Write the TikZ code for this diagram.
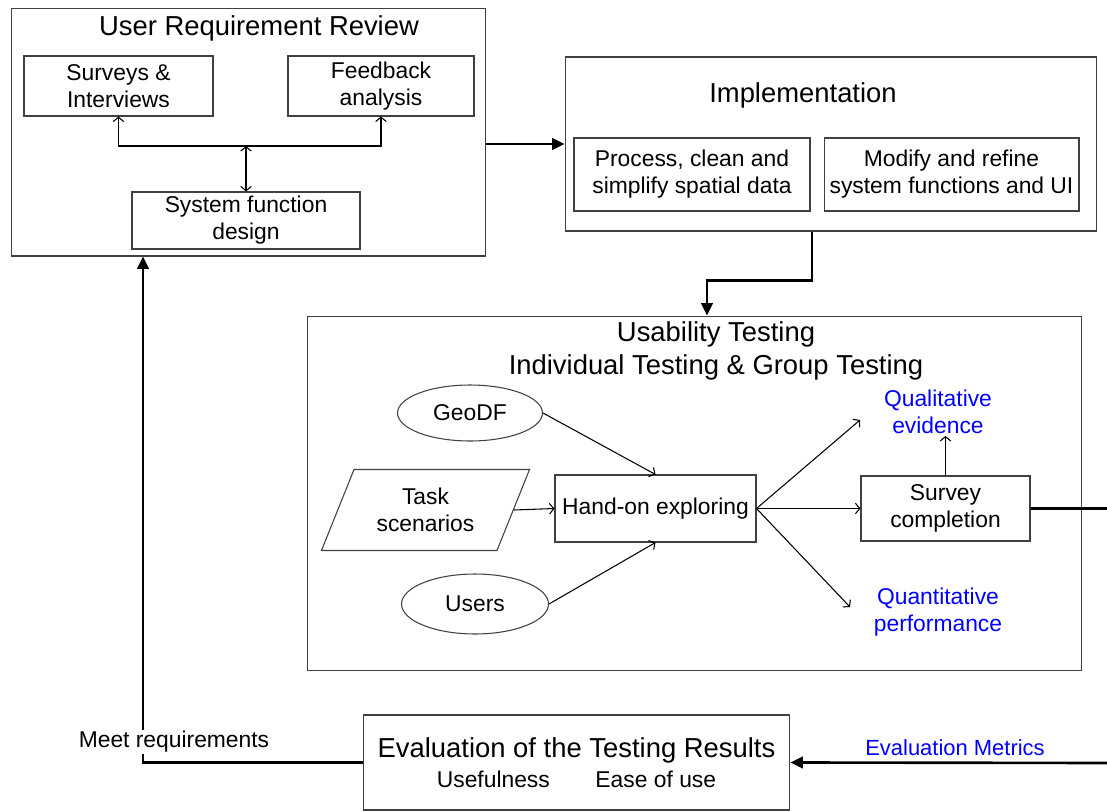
\documentclass[tikz,border=0pt]{standalone}
\usepackage{fontspec}
\setmainfont{Liberation Sans}
\usetikzlibrary{shapes.geometric,arrows.meta}
\tikzstyle{panel}=[rectangle,draw=black!75,line width=0.6pt,inner sep=0pt]
\tikzstyle{box}=[rectangle,draw=black!75,line width=0.6pt,align=center,inner sep=0pt,font=\fontsize{13}{15.3}\selectfont]
\tikzstyle{oval}=[ellipse,draw=black!75,line width=0.6pt,inner sep=0pt,font=\fontsize{13}{15.3}\selectfont]
\tikzstyle{heading}=[align=center,inner sep=1pt,font=\fontsize{15.6}{18.7}\selectfont]
\tikzstyle{result}=[align=center,inner sep=1pt,text=blue,font=\fontsize{13}{15.3}\selectfont]
\tikzstyle{link}=[line width=0.6pt,-{Straight Barb[length=2.5pt,width=6pt]}]
\tikzstyle{flow}=[line width=1.5pt,-{Triangle[length=7pt,width=6.5pt]}]

\begin{document}
\begin{tikzpicture}[x=0.02cm,y=-0.02cm]
		\useasboundingbox (0,0) rectangle (1107,812);
		\clip (0,0) rectangle (1107,812);
		\node[panel,minimum width=9.5cm,minimum height=4.96cm] at (248.5,132) (urrbox) {};
		\node[heading] at (259,28) (urrtitle) {User Requirement Review};
		\node[box,minimum width=3.78cm,minimum height=1.2cm] at (118.5,86) (surveys) {Surveys \&\\Interviews};
		\node[box,minimum width=3.72cm,minimum height=1.2cm] at (381,86) (feedback) {Feedback\\analysis};
		\node[box,minimum width=4.56cm,minimum height=1.14cm] at (246,220.5) (sysdesign) {System function\\design};
		\coordinate (hub) at (246,146);
		\node[panel,minimum width=10.64cm,minimum height=3.48cm] at (831,144) (impl) {};
		\node[heading] at (803,95) (impltitle) {Implementation};
		\node[box,minimum width=4.72cm,minimum height=1.46cm] at (692,174.5) (process) {Process, clean and\\simplify spatial data};
		\node[box,minimum width=5.1cm,minimum height=1.46cm] at (951.5,174.5) (modify) {Modify and refine\\system functions and UI};
		\node[panel,minimum width=15.5cm,minimum height=7.1cm] at (694.5,493.5) (usab) {};
		\node[heading] at (716,351) (usabtitle) {Usability Testing\\Individual Testing \& Group Testing};
		\node[oval,minimum width=2.9cm,minimum height=1.12cm] at (470,413) (geodf) {GeoDF};
		\node[box,trapezium,trapezium left angle=63,trapezium right angle=117,trapezium stretches=true,minimum width=4.18cm,minimum height=1.62cm] at (425.5,510) (task) {Task\\scenarios};
		\node[oval,minimum width=2.94cm,minimum height=1.2cm] at (475,604) (users) {Users};
		\node[box,minimum width=4.02cm,minimum height=1.34cm] at (655.5,508.5) (handon) {Hand-on exploring};
		\node[result] at (938,412) (qual) {Qualitative\\evidence};
		\node[box,minimum width=3.38cm,minimum height=1.3cm] at (945.5,508.5) (survey) {Survey\\completion};
		\node[result] at (938,612) (quant) {Quantitative\\performance};
		\coordinate (qualin) at (860,420);
		\coordinate (quantin) at (850,607);
		\node[box,minimum width=8.54cm,minimum height=1.9cm,font=\fontsize{15.6}{17}\selectfont] at (576.5,762.5) (evalbox) {Evaluation of the Testing Results\\{\fontsize{13}{15}\selectfont Usefulness\hspace{26pt}Ease of use}};
		\node[result,font=\fontsize{12.5}{15}\selectfont] at (955,748) (metrics) {Evaluation Metrics};
		\coordinate (rightturn) at (1116,763);
		\draw[link] (hub) -| (surveys.south);
		\draw[link] (hub) -| (feedback.south);
		\draw[line width=0.6pt,{Straight Barb[length=2.5pt,width=6pt]}-{Straight Barb[length=2.5pt,width=6pt]}] (hub) -- (sysdesign.north);
		\draw[flow] (urrbox.east |- impl.west) -- (impl.west);
		\draw[flow] ([xshift=-0.38cm]impl.south) -- ++(0,49) -| ([xshift=0.25cm]usab.north);
		\draw[link] (geodf.east) -- (handon.north);
		\draw[link] (task.east) -- (handon.west);
		\draw[link] (users.east) -- (handon.south);
		\draw[link] (handon.east) -- (qualin);
		\draw[link] (handon.east) -- (survey.west);
		\draw[link] (handon.east) -- (quantin);
		\draw[link] (survey.north) -- (survey.north |- qual.south);
		\draw[flow] (survey.east) -| (rightturn) -- (evalbox.east);
		\draw[flow] (evalbox.west) -| ([xshift=-2.11cm]urrbox.south);
		\node[fill=white,inner sep=1pt,font=\fontsize{13}{15.3}\selectfont] at (174,742) (meet) {Meet requirements};
		\end{tikzpicture}
\end{document}
